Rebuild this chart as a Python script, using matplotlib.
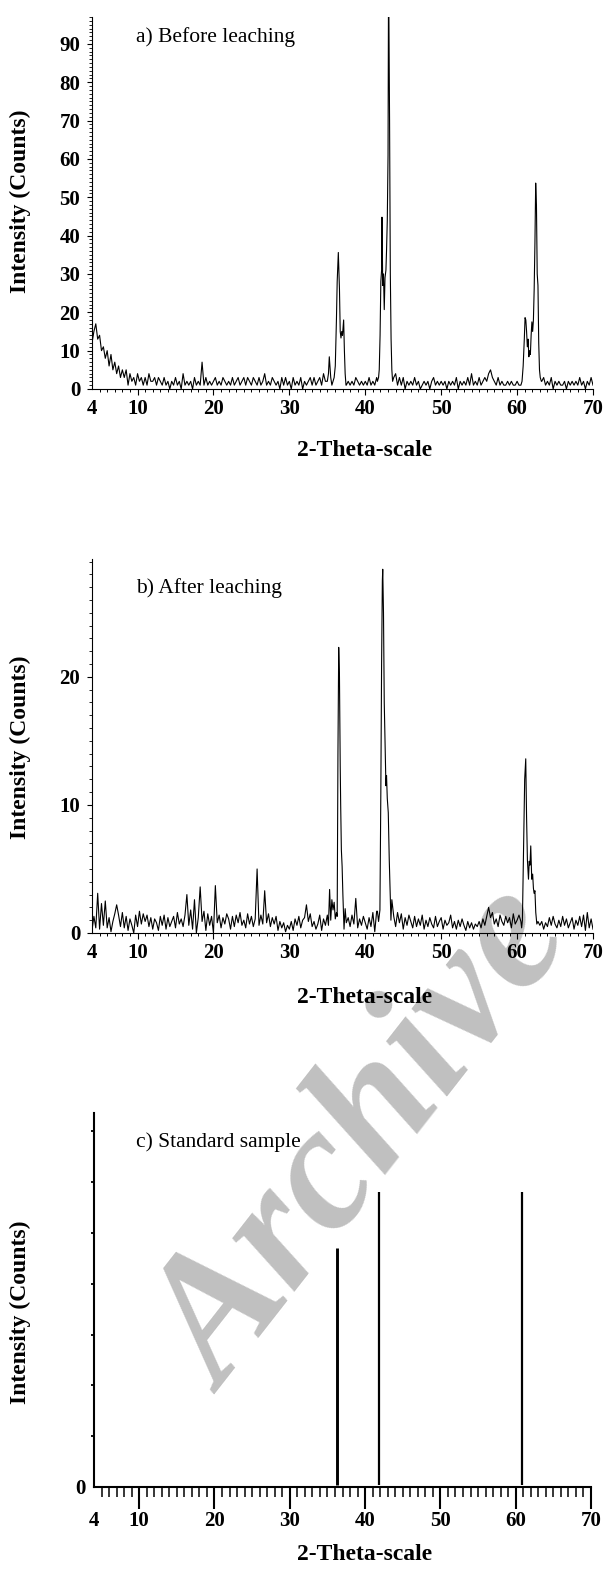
import numpy as np
import matplotlib
matplotlib.use("Agg")
import matplotlib.pyplot as plt
from matplotlib.ticker import MultipleLocator

plt.rcParams['font.family'] = ['Liberation Serif', 'DejaVu Serif']

# a) Before leaching: background counts, one row per degree (4.00, 4.25, 4.50, 4.75)
bg_a = [
    12, 15, 17, 13,  # 4
    14, 10, 11, 8,
    10, 6, 9, 5,
    7, 4, 6, 3,
    5, 3, 5, 1,
    4, 2, 3, 1,
    4, 2, 3, 1,  # 10
    3, 1, 4, 2,
    2, 3, 1, 3,
    2, 1, 3, 1,
    2, 0, 2, 1,
    3, 1, 2, 0,  # 15
    4, 1, 2, 1,
    2, 0, 3, 1,
    2, 1, 7, 1,
    3, 1, 2, 1,
    2, 3, 1, 2,  # 20
    1, 3, 2, 1,
    2, 1, 3, 1,
    2, 3, 1, 2,
    3, 1, 3, 2,
    1, 3, 2, 1,  # 25
    3, 1, 2, 4,
    1, 2, 1, 3,
    2, 1, 2, 0,
    3, 1, 3, 1,
    2, 0, 3, 1,  # 30
    2, 1, 3, 0,
    2, 1, 2, 3,
    1, 3, 1, 2,
    3, 1, 4, 2,
    2, 2, 2, 2,  # 35
    2, 2, 2, 2,
    2, 2, 1, 2,
    1, 2, 1, 3,
    2, 1, 2, 1,
    2, 1, 3, 1,  # 40
    2, 1, 3, 2,
    2, 2, 2, 2,
    2, 2, 2, 3,
    4, 1, 3, 1,
    3, 0, 2, 1,  # 45
    2, 1, 3, 1,
    2, 0, 1, 2,
    1, 2, 0, 2,
    3, 1, 2, 1,
    2, 1, 2, 0,  # 50
    2, 1, 2, 1,
    3, 0, 2, 1,
    2, 1, 3, 1,
    4, 1, 2, 1,
    3, 1, 2, 3,  # 55
    2, 4, 5, 3,
    2, 1, 3, 1,
    2, 1, 1, 2,
    1, 2, 1, 1,
    2, 1, 1, 2,  # 60
    2, 2, 2, 2,
    2, 2, 2, 2,
    2, 2, 3, 1,
    2, 1, 3, 0,
    2, 1, 2, 1,  # 65
    1, 2, 0, 2,
    1, 2, 1, 2,
    1, 3, 1, 2,
    0, 2, 1, 3,
    1,           # 70
]

peak_a1_theta = [35.0, 35.15, 35.26, 35.45, 35.6, 35.75, 35.9, 36.05, 36.2, 36.3,
                 36.45, 36.6, 36.7, 36.8, 36.9, 37.0, 37.15, 37.25, 37.35, 37.46]
peak_a1_counts = [2, 4, 8.4, 3, 1, 2, 3, 6, 18, 28,
                  35.6, 26, 15, 13.3, 15, 14, 18, 10, 4, 1]

peak_a2_theta = [41.6, 41.75, 41.84, 41.95, 42.05, 42.15, 42.2, 42.3, 42.4, 42.5,
                 42.6, 42.72, 42.8, 42.9, 43.0, 43.07, 43.2, 43.3, 43.4, 43.5, 43.6]
peak_a2_counts = [2, 3, 5, 14, 28, 31, 44.8, 27, 30, 20.7,
                  29, 31, 36, 44, 61, 110, 70, 30, 13, 5, 2]

peak_a3_theta = [60.5, 60.65, 60.8, 60.95, 61.05, 61.15, 61.25, 61.35, 61.45, 61.55,
                 61.65, 61.75, 61.85, 61.95, 62.05, 62.15, 62.25, 62.35, 62.45, 62.55,
                 62.65, 62.75, 62.85, 62.95, 63.05, 63.2]
peak_a3_counts = [1, 2, 6, 13, 18.6, 18, 15, 11, 13, 8.4,
                  10, 9, 14, 17.5, 15, 18, 26, 38, 53.7, 48,
                  30, 27, 12, 5, 3, 2]

# b) After leaching
bg_b = [
    0.2, 1.3, 0.4, 3.1,  # 4
    0.3, 2.3, 0.6, 2.5,
    0.4, 1.2, 0.1, 0.9,
    1.5, 2.2, 1.4, 0.5,
    1.6, 0.4, 1.3, 0.2,
    1.1, 0.6, 0.0, 1.4,
    0.5, 1.7, 0.7, 1.5,  # 10
    0.9, 1.4, 0.5, 1.2,
    0.3, 1.1, 0.8, 0.2,
    1.3, 0.6, 1.4, 0.3,
    1.2, 0.5, 0.9, 1.3,
    0.4, 1.6, 0.7, 1.1,  # 15
    0.5, 1.4, 3.0, 0.6,
    1.8, 0.3, 2.6, 0.0,
    1.2, 3.6, 0.9, 1.7,
    0.2, 1.5, 0.6, 1.3,
    0.0, 3.7, 0.8, 1.4,  # 20
    0.4, 1.2, 0.7, 1.5,
    1.1, 0.3, 1.3, 0.5,
    1.4, 0.8, 1.6, 0.6,
    1.0, 0.4, 1.5, 0.7,
    1.3, 0.5, 1.1, 5.0,  # 25
    0.6, 1.4, 0.7, 3.3,
    0.8, 1.5, 0.5, 1.2,
    0.7, 1.3, 0.2, 0.9,
    0.4, 0.8, 0.1, 0.6,
    0.3, 0.9, 0.2, 1.1,  # 30
    0.6, 1.3, 0.4, 1.0,
    1.2, 2.2, 0.9, 1.5,
    0.5, 0.9, 0.3, 0.7,
    1.4, 0.2, 1.1, 0.6,
    1.0, 1.0, 1.0, 1.0,  # 35
    1.0, 1.0, 1.0, 1.0,
    1.0, 1.0, 1.0, 1.2,
    0.5, 1.4, 0.7, 2.7,
    0.4, 1.1, 0.6, 1.3,
    0.8, 0.3, 1.2, 0.5,  # 40
    1.6, 0.1, 1.7, 1.0,
    1.0, 1.0, 1.0, 1.0,
    1.0, 1.0, 1.0, 1.3,
    0.5, 1.6, 0.8, 1.5,
    0.3, 1.2, 0.6, 1.4,  # 45
    0.9, 0.4, 1.3, 0.5,
    1.1, 0.6, 1.4, 0.3,
    1.0, 0.5, 1.2, 0.7,
    0.4, 1.3, 0.5, 0.9,
    1.2, 0.3, 1.0, 0.6,  # 50
    0.8, 1.4, 0.4, 0.9,
    0.3, 1.0, 0.5, 1.1,
    0.6, 0.2, 0.9, 0.4,
    0.8, 0.3, 0.7, 0.5,
    0.9, 0.4, 1.1, 0.6,  # 55
    1.3, 2.0, 1.2, 1.6,
    0.7, 1.1, 0.5, 1.4,
    0.9, 0.6, 1.3, 0.8,
    1.2, 0.4, 1.5, 0.7,
    1.0, 1.4, 1.0, 1.0,  # 60
    1.0, 1.0, 1.0, 1.0,
    1.0, 1.0, 1.0, 0.9,
    0.6, 0.9, 0.3, 0.8,
    0.5, 1.2, 0.6, 1.3,
    0.7, 0.4, 1.0, 0.5,  # 65
    1.3, 0.6, 1.1, 0.4,
    0.8, 1.2, 0.3, 1.0,
    0.6, 1.3, 0.5, 1.4,
    0.2, 1.6, 0.4, 1.1,
    0.3,                 # 70
]

peak_b1_theta = [35.0, 35.15, 35.3, 35.45, 35.6, 35.75, 35.9, 36.05, 36.2, 36.3,
                 36.4, 36.5, 36.6, 36.7, 36.76, 36.85, 36.95, 37.05, 37.2, 37.35, 37.5]
peak_b1_counts = [1.4, 0.6, 3.4, 1.0, 2.6, 1.8, 2.4, 1.1, 1.6, 1.3,
                  14, 22.3, 20, 13, 10.0, 6.5, 5.2, 3.0, 0.3, 1.9, 0.8]

peak_b2_theta = [41.6, 41.75, 41.93, 42.05, 42.15, 42.25, 42.3, 42.4, 42.5, 42.63,
                 42.72, 42.8, 42.9, 43.03, 43.16, 43.29, 43.38, 43.5]
peak_b2_counts = [1.7, 0.9, 1.8, 11, 21, 27.5, 28.4, 25, 18, 14.1,
                  11.5, 12.3, 10.5, 9.4, 5.7, 3.0, 1.0, 2.6]

peak_b3_theta = [60.5, 60.6, 60.7, 60.85, 61.0, 61.14, 61.25, 61.36, 61.5, 61.6,
                 61.7, 61.8, 61.93, 62.05, 62.15, 62.24, 62.35, 62.46, 62.6]
peak_b3_counts = [0.9, 0.4, 1.0, 6.5, 12, 13.6, 9, 5.7, 4.2, 5.6,
                  5.3, 6.8, 4.2, 4.6, 3.5, 3.1, 3.3, 1.6, 0.7]

# c) Standard sample (stick pattern)
std_theta = [36.3, 41.9, 60.9]
std_intensity = [47, 58, 58]

x_ticks = [4, 10, 20, 30, 40, 50, 60, 70]


def build(bg, peaks):
    theta = 4 + 0.25 * np.arange(len(bg))
    counts = np.array(bg, dtype=float)
    keep = np.ones(len(theta), dtype=bool)
    for th, ct in peaks:
        keep &= ~((theta >= th[0]) & (theta <= th[-1]))
    t = np.concatenate([theta[keep]] + [np.array(th) for th, ct in peaks])
    c = np.concatenate([counts[keep]] + [np.array(ct, dtype=float) for th, ct in peaks])
    order = np.argsort(t)
    return t[order], c[order]


theta_a, counts_a = build(bg_a, [(peak_a1_theta, peak_a1_counts),
                                 (peak_a2_theta, peak_a2_counts),
                                 (peak_a3_theta, peak_a3_counts)])
theta_b, counts_b = build(bg_b, [(peak_b1_theta, peak_b1_counts),
                                 (peak_b2_theta, peak_b2_counts),
                                 (peak_b3_theta, peak_b3_counts)])

W, H = 605, 1573
fig = plt.figure(figsize=(W / 100, H / 100), dpi=100)


def px_axes(left, top, right, bottom):
    return fig.add_axes([left / W, 1 - bottom / H, (right - left) / W, (bottom - top) / H])


ax_a = px_axes(92, 17, 593, 389)
ax_b = px_axes(92, 559, 593, 933)
ax_c = px_axes(94, 1113, 591, 1487)

ax_a.plot(theta_a, counts_a, color='black', lw=0.8)
ax_a.set_ylim(0, 97)
ax_b.plot(theta_b, counts_b, color='black', lw=0.8)
ax_b.set_ylim(0, 29.2)
ax_c.vlines(std_theta, 0.4, std_intensity, color='black', linewidths=[2.1, 1.6, 1.6])
ax_c.set_ylim(0, 73.6)

tick_font = dict(fontsize=15, fontweight='bold')
for ax, spw in [(ax_a, 0.8), (ax_b, 0.8), (ax_c, 1.5)]:
    ax.set_xlim(4, 70)
    ax.patch.set_visible(False)
    for s in ['top', 'right']:
        ax.spines[s].set_visible(False)
    for s in ['left', 'bottom']:
        ax.spines[s].set_linewidth(spw)
    ax.set_xticks(x_ticks)
    ax.set_xticklabels([str(v) for v in x_ticks], **tick_font)
    ax.xaxis.set_minor_locator(MultipleLocator(1))
    ax.xaxis.get_major_ticks()[0].tick1line.set_visible(False)

for ax in [ax_a, ax_b]:
    ax.yaxis.set_minor_locator(MultipleLocator(1))
    ax.tick_params(axis='x', which='major', direction='out', length=4.5, width=0.8, pad=3)
    ax.tick_params(axis='x', which='minor', direction='out', length=2.2, width=0.7)
    ax.tick_params(axis='y', which='major', direction='out', length=3.5, width=0.8, pad=5)
    ax.tick_params(axis='y', which='minor', direction='out', length=2, width=0.6)

ax_a.set_yticks(range(0, 100, 10))
ax_a.set_yticklabels([str(v) for v in range(0, 100, 10)], **tick_font)
ax_b.set_yticks([0, 10, 20])
ax_b.set_yticklabels(['0', '10', '20'], **tick_font)

ax_c.set_yticks([0])
ax_c.set_yticklabels(['0'], **tick_font)
ax_c.yaxis.set_minor_locator(MultipleLocator(10))
ax_c.tick_params(axis='x', which='major', direction='out', length=16, width=1.5, pad=1)
ax_c.tick_params(axis='x', which='minor', direction='out', length=7.5, width=1.1)
ax_c.tick_params(axis='y', which='major', direction='out', length=0, pad=6)
ax_c.tick_params(axis='y', which='minor', direction='out', length=2.5, width=1.3)

# panel captions and axis titles
captions = ["a) Before leaching", "b) After leaching", "c) Standard sample"]
caption_y = [37, 588, 1142]
ylabel_y = [201, 747, 1312]
xlabel_y = [451, 998, 1555]
for cap, cy, yy, xy in zip(captions, caption_y, ylabel_y, xlabel_y):
    fig.text(136 / W, 1 - cy / H, cap, fontsize=15.5, ha='left', va='center')
    fig.text(20 / W, 1 - yy / H, "Intensity (Counts)", fontsize=17, fontweight='bold',
             rotation=90, ha='center', va='center')
    fig.text(365 / W, 1 - xy / H, "2-Theta-scale", fontsize=17, fontweight='bold',
             ha='center', va='center')

# watermark
fig.text(224 / W, 1 - 1395 / H, "Archive", fontsize=128, fontweight='bold',
         fontstyle='italic', color='#c0c0c0', rotation=52, rotation_mode='anchor',
         ha='left', va='baseline', zorder=-1)

fig.savefig("out.png", dpi=100)
